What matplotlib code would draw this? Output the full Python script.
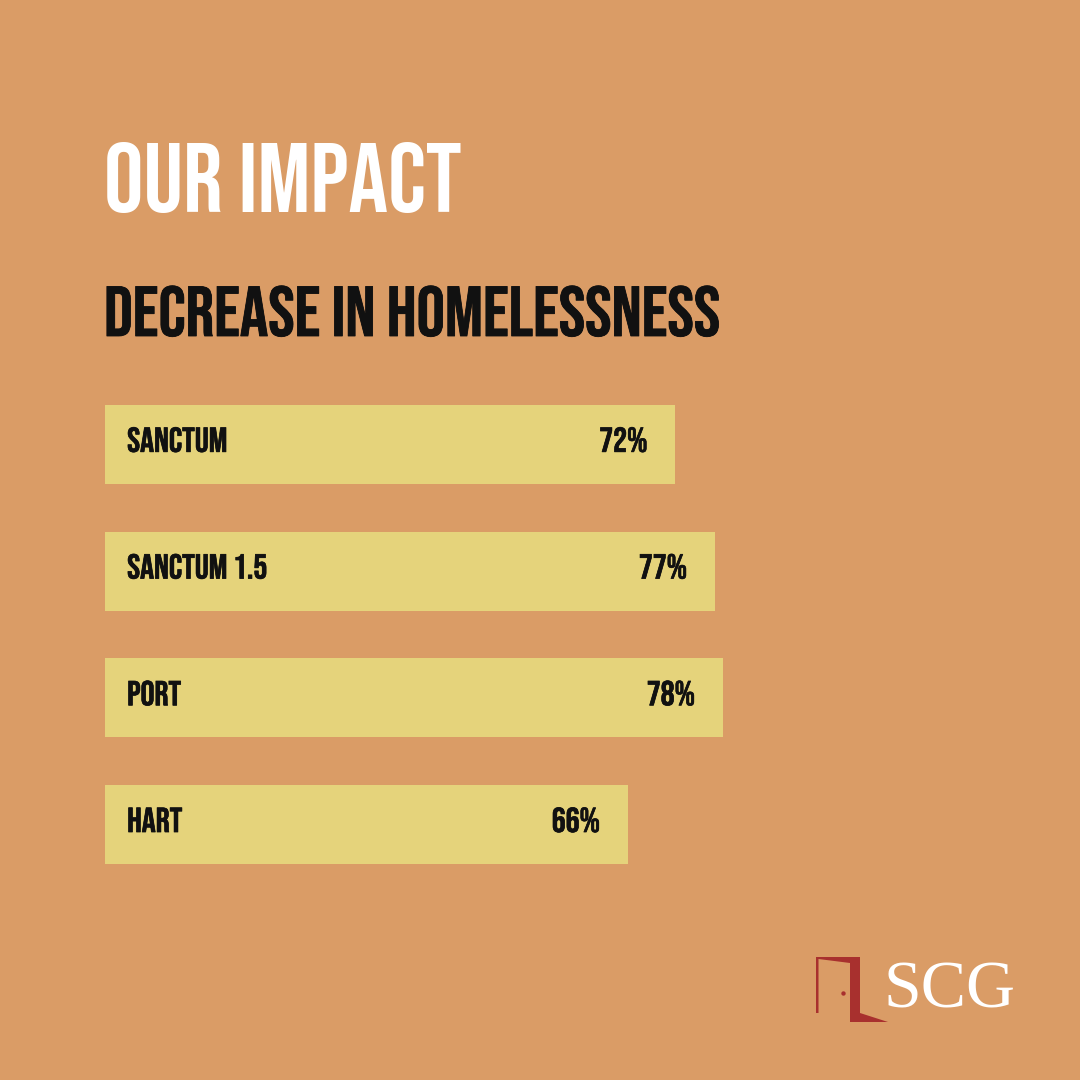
import matplotlib.pyplot as plt
import matplotlib.patheffects as pe
from matplotlib.patches import Polygon, Circle

# bar chart card: decrease in homelessness by program
programs = ["SANCTUM", "SANCTUM 1.5", "PORT", "HART"]
decrease = [72, 77, 78, 66]

BG = "#DA9C66"
BAR = "#E5D37B"
RED = "#A8302E"
INK = "#111111"
COND = ["Bebas Neue", "Oswald", "Anton", "DejaVu Sans"]

fig = plt.figure(figsize=(10.8, 10.8), dpi=100)
fig.patch.set_facecolor(BG)

# axes spans x 105..897 px (0..100 %), y 405..864 px
ax = fig.add_axes([105 / 1080, 1 - 864 / 1080, 792 / 1080, 459 / 1080])
ax.set_facecolor("none")
h = 79 / 127
ax.barh(range(len(programs)), decrease, height=h, color=BAR, edgecolor="none")
ax.set_xlim(0, 100)
ax.set_ylim(len(programs) - 1 + h / 2, -h / 2)
ax.axis("off")

# labels sit a touch above bar centre in the original
bold = [pe.withStroke(linewidth=0.5, foreground=INK)]
for i, (name, val) in enumerate(zip(programs, decrease)):
    ax.text(2.8, i - 0.04, name, ha="left", va="center_baseline", fontsize=25,
            family=COND, color=INK, path_effects=bold)
    ax.text(val - 3.5, i - 0.04, f"{val}%", ha="right", va="center_baseline",
            fontsize=25, family=COND, color=INK, path_effects=bold)

# headings
fig.text(104 / 1080, 1 - 212 / 1080, "OUR IMPACT", ha="left", va="baseline",
         fontsize=71, family=COND, color="white")
fig.text(104 / 1080, 1 - 336 / 1080, "DECREASE IN HOMELESSNESS", ha="left",
         va="baseline", fontsize=51, family=COND, color=INK,
         path_effects=[pe.withStroke(linewidth=0.6, foreground=INK)])

# logo: door icon + SCG
def px(x, y):
    return (x / 1080, 1 - y / 1080)

door = [(816, 957), (860, 957), (860, 1013), (888, 1022), (850, 1022),
        (850, 963), (818.5, 959), (818.5, 1013), (816, 1013)]
fig.patches.append(Polygon([px(x, y) for x, y in door], closed=True,
                           transform=fig.transFigure, facecolor=RED, edgecolor="none"))
fig.patches.append(Circle(px(843.5, 993.5), 2.2 / 1080, transform=fig.transFigure,
                          facecolor=RED, edgecolor="none"))
fig.text(884 / 1080, 1 - 1007 / 1080, "SCG", ha="left", va="baseline",
         fontsize=49, family=["Liberation Serif", "DejaVu Serif"], color="white")

fig.savefig("out.png", dpi=100, facecolor=BG)
